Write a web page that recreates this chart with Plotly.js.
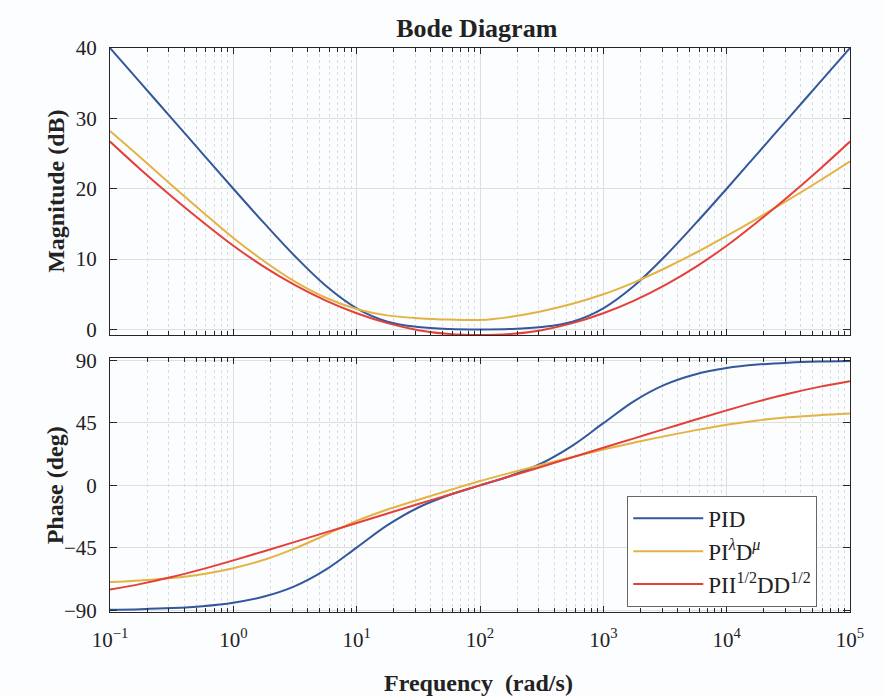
<!DOCTYPE html>
<html>
<head>
<meta charset="utf-8">
<script src="https://cdn.plot.ly/plotly-3.0.1.min.js"></script>
<style>html,body{margin:0;padding:0;background:#fcfdfe;}</style>
</head>
<body>
<div id="chart" style="width:883px;height:697px;"></div>
<script>
// Frequencies (rad/s), quarter-decade points
const freq = [0.1,0.1778,0.3162,0.5623,1,1.778,3.162,5.623,10,17.78,31.62,56.23,100,177.8,316.2,562.3,1000,1778,3162,5623,10000,17780,31620,56230,100000];

// Magnitude (dB)
const magPID  = [40.0,35.0,30.0,25.0,20.0,15.1,10.4,6.2,3.0,1.1,0.34,0.06,0.0,0.06,0.34,1.1,3.0,6.2,10.4,15.1,20.0,25.0,30.0,35.0,40.0];
const magFrac = [28.2,24.4,20.5,16.7,13.0,9.7,6.8,4.5,2.9,2.0,1.6,1.4,1.35,1.8,2.6,3.65,5.0,6.7,8.7,10.9,13.3,15.8,18.4,21.1,23.9];
const magHalf = [26.7,22.7,18.9,15.3,11.9,8.9,6.3,4.1,2.3,0.9,-0.1,-0.65,-0.8,-0.65,-0.1,0.9,2.3,4.1,6.3,8.9,11.9,15.3,18.9,22.7,26.7];

// Phase (deg)
const phPID  = [-89.4,-89.0,-88.2,-86.8,-84.3,-79.9,-72.4,-60.6,-44.7,-28.6,-15.9,-6.9,0,6.9,15.9,28.6,44.7,60.6,72.4,79.9,84.3,86.8,88.2,89.0,89.4];
const phFrac = [-69.5,-68.3,-66.6,-63.8,-59.5,-53.5,-45.3,-35.5,-25.5,-17.3,-10.3,-3.5,3.1,9.1,14.8,20.4,25.8,30.8,35.4,39.7,43.6,46.7,48.9,50.4,51.6];
const phHalf = [-74.9,-70.8,-65.9,-60.2,-53.9,-47.3,-40.6,-33.8,-27.0,-20.2,-13.4,-6.7,0,6.7,13.4,20.2,27.0,33.8,40.6,47.3,53.9,60.2,65.9,70.8,74.9];

const seriesNames = ['PID', 'PI<sup><i>λ</i></sup>D<sup><i>μ</i></sup>', 'PII<sup>1/2</sup>DD<sup>1/2</sup>'];
const colors = ['#33589b', '#e3b343', '#e4403a'];

// Axis ticks
const xTickVals = [0.1,1,10,100,1000,10000,100000];
const xTickText = ['10<sup>−1</sup>','10<sup>0</sup>','10<sup>1</sup>','10<sup>2</sup>','10<sup>3</sup>','10<sup>4</sup>','10<sup>5</sup>'];
const magTickVals = [0,10,20,30,40];
const phTickVals = [-90,-45,0,45,90];
const phTickText = ['−90','−45','0','45','90'];

const minorVals = [];
for (let e = -1; e < 5; e++) {
  for (let m = 2; m <= 9; m++) minorVals.push(m * Math.pow(10, e));
}

const FONT = 'Liberation Serif, Times New Roman, serif';
const axisCol = '#262626';

const mags = [magPID, magFrac, magHalf];
const phs = [phPID, phFrac, phHalf];
const traces = [];
for (let i = 0; i < 3; i++) {
  traces.push({x: freq, y: mags[i], xaxis: 'x', yaxis: 'y', mode: 'lines', name: seriesNames[i],
    line: {color: colors[i], width: 2, shape: 'spline', smoothing: 1}, showlegend: false});
}
for (let i = 0; i < 3; i++) {
  traces.push({x: freq, y: phs[i], xaxis: 'x2', yaxis: 'y2', mode: 'lines', name: seriesNames[i],
    line: {color: colors[i], width: 2, shape: 'spline', smoothing: 1}, showlegend: true});
}

function xAxis(anchor, labels) {
  return {
    type: 'log', range: [-1, 5], anchor: anchor,
    tickmode: 'array', tickvals: xTickVals, ticktext: xTickText, showticklabels: labels,
    ticks: 'inside', ticklen: 6, tickcolor: axisCol, mirror: 'allticks',
    showline: true, linecolor: axisCol, linewidth: 1,
    showgrid: true, gridcolor: '#dfdfdf', gridwidth: 1, zeroline: false,
    tickfont: {family: FONT, size: 21, color: '#222'},
    minor: {tickmode: 'array', tickvals: minorVals, ticks: 'inside', ticklen: 4, tickcolor: axisCol,
            showgrid: true, gridcolor: '#dcdcdc', griddash: 'dot', gridwidth: 1}
  };
}

const layout = {
  width: 883, height: 697,
  paper_bgcolor: '#fcfdfe', plot_bgcolor: '#fcfdfe',
  margin: {l: 110, r: 33, t: 48, b: 85},
  title: {text: '<b>Bode Diagram</b>', x: 0.54, xanchor: 'center', y: 1 - 28/697, yanchor: 'middle',
          font: {family: FONT, size: 26, color: '#222'}},
  xaxis: xAxis('y', false),
  xaxis2: Object.assign(xAxis('y2', true), {matches: 'x', ticklabelstandoff: 9}),
  yaxis: {domain: [0.491, 1], range: [-0.8, 40], tickmode: 'array', tickvals: magTickVals,
    ticks: 'inside', ticklen: 7, tickcolor: axisCol, mirror: 'allticks', showline: true, linecolor: axisCol,
    showgrid: true, gridcolor: '#dfdfdf', zeroline: false, ticklabelstandoff: 8,
    tickfont: {family: FONT, size: 21, color: '#222'}},
  yaxis2: {domain: [0, 0.45], range: [-91, 91.4], tickmode: 'array', tickvals: phTickVals, ticktext: phTickText,
    ticks: 'inside', ticklen: 7, tickcolor: axisCol, mirror: 'allticks', showline: true, linecolor: axisCol,
    showgrid: true, gridcolor: '#dfdfdf', zeroline: false, ticklabelstandoff: 8,
    tickfont: {family: FONT, size: 21, color: '#222'}},
  legend: {x: 0.699, y: 0.206, xanchor: 'left', yanchor: 'top', bgcolor: '#ffffff',
    bordercolor: '#666666', borderwidth: 1, itemwidth: 70,
    font: {family: FONT, size: 23, color: '#222'}},
  annotations: [
    {text: '<b>Magnitude (dB)</b>', xref: 'paper', yref: 'paper', x: -0.074, y: 0.7455, textangle: -90,
     showarrow: false, xanchor: 'center', yanchor: 'middle', font: {family: FONT, size: 24, color: '#222'}},
    {text: '<b>Phase (deg)</b>', xref: 'paper', yref: 'paper', x: -0.074, y: 0.225, textangle: -90,
     showarrow: false, xanchor: 'center', yanchor: 'middle', font: {family: FONT, size: 24, color: '#222'}},
    {text: '<b>Frequency  (rad/s)</b>', xref: 'paper', yref: 'paper', x: 0.4986, y: -0.126,
     showarrow: false, xanchor: 'center', yanchor: 'middle', font: {family: FONT, size: 24, color: '#222'}}
  ]
};

Plotly.newPlot('chart', traces, layout, {displayModeBar: false, staticPlot: true});
</script>
</body>
</html>
